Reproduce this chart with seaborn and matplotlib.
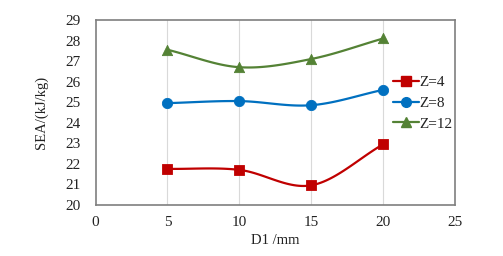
import numpy as np
import pandas as pd
import matplotlib
matplotlib.use("Agg")
import matplotlib.pyplot as plt
import seaborn as sns

d1 = [5, 10, 15, 20]
sea_z4 = [21.75, 21.7, 20.95, 22.95]
sea_z8 = [24.95, 25.05, 24.85, 25.6]
sea_z12 = [27.55, 26.7, 27.1, 28.1]
labels = ["Z=4", "Z=8", "Z=12"]
colors = ["#C00000", "#0070C0", "#548235"]
markers = ["s", "o", "^"]


def smooth(x, y, n=30):
    # Catmull-Rom style smoothing, like Excel's smoothed line
    x = np.asarray(x, float)
    y = np.asarray(y, float)
    px = np.concatenate([[2 * x[0] - x[1]], x, [2 * x[-1] - x[-2]]])
    py = np.concatenate([[2 * y[0] - y[1]], y, [2 * y[-1] - y[-2]]])
    xs, ys = [], []
    t = np.linspace(0, 1, n)
    for i in range(1, len(px) - 2):
        for p, out in ((px, xs), (py, ys)):
            p0, p1, p2, p3 = p[i - 1], p[i], p[i + 1], p[i + 2]
            out.append(0.5 * ((2 * p1) + (-p0 + p2) * t
                              + (2 * p0 - 5 * p1 + 4 * p2 - p3) * t ** 2
                              + (-p0 + 3 * p1 - 3 * p2 + p3) * t ** 3))
    return np.concatenate(xs), np.concatenate(ys)


sns.set_style("white")
plt.rcParams["font.family"] = ["Liberation Serif", "DejaVu Serif"]

fig, ax = plt.subplots(figsize=(5.03, 2.56), dpi=100)
fig.subplots_adjust(left=0.19, right=0.905, top=0.922, bottom=0.2)

for xv in d1:
    ax.axvline(xv, color="#D9D9D9", lw=0.8, zorder=0)

for vals, lab, c, m in zip([sea_z4, sea_z8, sea_z12], labels, colors, markers):
    sx, sy = smooth(d1, vals)
    sns.lineplot(x=sx, y=sy, ax=ax, color=c, lw=1.6, sort=False, estimator=None)
    ax.plot([], [], color=c, lw=1.6, marker=m, ms=7, label=lab)
    sns.scatterplot(x=d1, y=vals, ax=ax, color=c, marker=m, s=55, edgecolor=c, zorder=3)

ax.set_xlim(0, 25)
ax.set_ylim(20, 29)
ax.set_xticks([0, 5, 10, 15, 20, 25])
ax.set_yticks(range(20, 30))
ax.tick_params(labelsize=11, length=0, labelcolor="#222222")
ax.tick_params(axis="y", pad=11)
ax.tick_params(axis="x", pad=8)
ax.set_xlabel("D1 /mm", fontsize=10.5, labelpad=4, color="#222222")
ax.set_ylabel("SEA/(kJ/kg)", fontsize=10.5, labelpad=12, color="#222222")
for s in ax.spines.values():
    s.set_color("#7F7F7F")
    s.set_linewidth(1.2)

ax.legend(loc="center left", bbox_to_anchor=(0.81, 0.55), frameon=False, fontsize=11,
          handlelength=1.7, handletextpad=0.05, labelspacing=0.45, borderaxespad=0,
          labelcolor="#222222")

fig.savefig("out.png", dpi=100)
